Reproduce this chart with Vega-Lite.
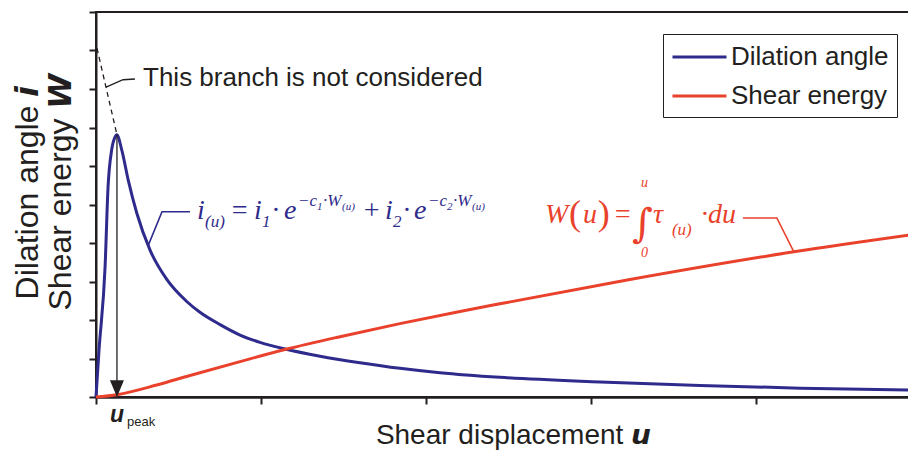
{
  "$schema": "https://vega.github.io/schema/vega-lite/v6.json",
  "width": 815,
  "height": 385,
  "autosize": "none",
  "padding": {"left": 96, "top": 12, "right": 0, "bottom": 53},
  "background": "white",
  "config": {"view": {"stroke": "#231f20", "strokeWidth": 2}, "font": "Liberation Sans"},
  "datasets": {
    "curves": [
      {"u": 0, "v": 0, "series": "Dilation angle"},
      {"u": 0.018, "v": 1.2, "series": "Dilation angle"},
      {"u": 0.055, "v": 3.38, "series": "Dilation angle"},
      {"u": 0.073, "v": 5.45, "series": "Dilation angle"},
      {"u": 0.095, "v": 6.42, "series": "Dilation angle"},
      {"u": 0.115, "v": 6.75, "series": "Dilation angle"},
      {"u": 0.126, "v": 6.81, "series": "Dilation angle"},
      {"u": 0.156, "v": 6.42, "series": "Dilation angle"},
      {"u": 0.195, "v": 5.64, "series": "Dilation angle"},
      {"u": 0.247, "v": 4.78, "series": "Dilation angle"},
      {"u": 0.327, "v": 3.82, "series": "Dilation angle"},
      {"u": 0.428, "v": 3.06, "series": "Dilation angle"},
      {"u": 0.55, "v": 2.48, "series": "Dilation angle"},
      {"u": 0.63, "v": 2.2, "series": "Dilation angle"},
      {"u": 0.752, "v": 1.88, "series": "Dilation angle"},
      {"u": 0.873, "v": 1.61, "series": "Dilation angle"},
      {"u": 0.994, "v": 1.42, "series": "Dilation angle"},
      {"u": 1.152, "v": 1.24, "series": "Dilation angle"},
      {"u": 1.358, "v": 1.06, "series": "Dilation angle"},
      {"u": 1.6, "v": 0.89, "series": "Dilation angle"},
      {"u": 1.842, "v": 0.745, "series": "Dilation angle"},
      {"u": 2.085, "v": 0.63, "series": "Dilation angle"},
      {"u": 2.448, "v": 0.51, "series": "Dilation angle"},
      {"u": 3.055, "v": 0.39, "series": "Dilation angle"},
      {"u": 3.66, "v": 0.3, "series": "Dilation angle"},
      {"u": 4.27, "v": 0.23, "series": "Dilation angle"},
      {"u": 4.94, "v": 0.18, "series": "Dilation angle"},
      {"u": 0, "v": 0, "series": "Shear energy"},
      {"u": 0.127, "v": 0.06, "series": "Shear energy"},
      {"u": 0.368, "v": 0.31, "series": "Shear energy"},
      {"u": 0.57, "v": 0.56, "series": "Shear energy"},
      {"u": 0.873, "v": 0.92, "series": "Shear energy"},
      {"u": 1.152, "v": 1.24, "series": "Shear energy"},
      {"u": 1.479, "v": 1.567, "series": "Shear energy"},
      {"u": 1.842, "v": 1.905, "series": "Shear energy"},
      {"u": 2.206, "v": 2.222, "series": "Shear energy"},
      {"u": 2.448, "v": 2.42, "series": "Shear energy"},
      {"u": 3.236, "v": 3.05, "series": "Shear energy"},
      {"u": 4.23, "v": 3.77, "series": "Shear energy"},
      {"u": 4.94, "v": 4.21, "series": "Shear energy"}
    ],
    "f1main": [
      {"u": 0.612, "v": 4.623, "t": "i"},
      {"u": 0.812, "v": 4.623, "t": "="},
      {"u": 0.958, "v": 4.623, "t": "i"},
      {"u": 1.067, "v": 4.623, "t": "·"},
      {"u": 1.139, "v": 4.623, "t": "e"},
      {"u": 1.612, "v": 4.623, "t": "+"},
      {"u": 1.752, "v": 4.623, "t": "i"},
      {"u": 1.861, "v": 4.623, "t": "·"},
      {"u": 1.927, "v": 4.623, "t": "e"}
    ],
    "f1script": [
      {"u": 0.661, "v": 4.416, "t": "(u)"},
      {"u": 1.006, "v": 4.416, "t": "1"},
      {"u": 1.8, "v": 4.416, "t": "2"},
      {"u": 1.224, "v": 4.961, "t": "−c"},
      {"u": 1.376, "v": 4.961, "t": "·W"},
      {"u": 2.012, "v": 4.961, "t": "−c"},
      {"u": 2.164, "v": 4.961, "t": "·W"}
    ],
    "f1small": [
      {"u": 1.339, "v": 4.857, "t": "1"},
      {"u": 1.491, "v": 4.857, "t": "(u)"},
      {"u": 2.127, "v": 4.857, "t": "2"},
      {"u": 2.279, "v": 4.857, "t": "(u)"}
    ],
    "f2main": [
      {"u": 2.721, "v": 4.519, "t": "W"},
      {"u": 2.952, "v": 4.519, "t": "u"},
      {"u": 3.133, "v": 4.519, "t": "="},
      {"u": 3.376, "v": 4.519, "t": "τ"},
      {"u": 3.667, "v": 4.519, "t": "·du"}
    ],
    "f2paren": [
      {"u": 2.867, "v": 4.468, "t": "("},
      {"u": 3.042, "v": 4.468, "t": ")"}
    ],
    "f2int": [
      {"u": 3.25, "v": 4.15, "t": "∫"}
    ],
    "f2lim": [
      {"u": 3.303, "v": 5.455, "t": "u"},
      {"u": 3.303, "v": 3.636, "t": "0"}
    ],
    "f2sub": [
      {"u": 3.491, "v": 4.208, "t": "(u)"}
    ]
  },
  "layer": [
    {
      "data": {"name": "curves"},
      "mark": {"type": "line", "strokeWidth": 3, "interpolate": "monotone"},
      "encoding": {
        "x": {
          "field": "u", "type": "quantitative",
          "scale": {"domain": [0, 4.94], "nice": false, "zero": false},
          "axis": {
            "values": [0, 1, 2, 3, 4], "labels": false, "grid": false,
            "tickSize": 7, "tickWidth": 2, "tickColor": "#231f20",
            "domainColor": "#231f20", "domainWidth": 2.5,
            "title": "Shear displacement 𝙪", "titleFont": "Liberation Sans", "titleFontSize": 28,
            "titleFontWeight": "normal", "titleColor": "#231f20",
            "titleX": 417, "titleY": 46, "titleBaseline": "alphabetic", "titleAlign": "center"
          }
        },
        "y": {
          "field": "v", "type": "quantitative",
          "scale": {"domain": [0, 10], "nice": false, "zero": false},
          "axis": {
            "tickCount": 10, "labels": false, "labelOverlap": false, "grid": false,
            "tickSize": 7, "tickWidth": 2, "tickColor": "#231f20",
            "domainColor": "#231f20", "domainWidth": 2,
            "title": ["Dilation angle 𝙞", "Shear energy 𝙒"], "titleFont": "Liberation Sans",
            "titleFontSize": 32, "titleFontWeight": "normal", "titleColor": "#231f20",
            "titleAngle": 270, "titleX": -59, "titleY": 180, "titleBaseline": "alphabetic",
            "titleAlign": "center", "titleLineHeight": 33
          }
        },
        "color": {
          "field": "series", "type": "nominal",
          "scale": {"domain": ["Dilation angle", "Shear energy"], "range": ["#2E2B8C", "#E9412B"]},
          "legend": {
            "title": null, "orient": "none", "legendX": 567, "legendY": 22,
            "symbolType": "M-1,0H3", "symbolStrokeWidth": 3, "symbolSize": 729,
            "labelFontSize": 26, "labelFont": "Liberation Sans", "labelColor": "#231f20",
            "strokeColor": "#231f20", "fillColor": "white", "padding": 8, "rowPadding": 11,
            "labelOffset": 30
          }
        }
      }
    },
    {
      "data": {"values": [{"u": 0.006, "v": 9.06}, {"u": 0.127, "v": 6.81}]},
      "mark": {"type": "line", "color": "#231f20", "strokeWidth": 1.3, "strokeDash": [5, 4]},
      "encoding": {"x": {"field": "u", "type": "quantitative"}, "y": {"field": "v", "type": "quantitative"}}
    },
    {
      "data": {"values": [{"u": 0.061, "v": 8.05, "o": 1}, {"u": 0.164, "v": 8.24, "o": 2}, {"u": 0.236, "v": 8.26, "o": 3}]},
      "mark": {"type": "line", "color": "#231f20", "strokeWidth": 1.3},
      "encoding": {"x": {"field": "u", "type": "quantitative"}, "y": {"field": "v", "type": "quantitative"}, "order": {"field": "o"}}
    },
    {
      "data": {"values": [{"u": 0.318, "v": 3.95, "o": 1}, {"u": 0.4, "v": 4.81, "o": 2}, {"u": 0.57, "v": 4.81, "o": 3}]},
      "mark": {"type": "line", "color": "#2E2B8C", "strokeWidth": 1.6},
      "encoding": {"x": {"field": "u", "type": "quantitative"}, "y": {"field": "v", "type": "quantitative"}, "order": {"field": "o"}}
    },
    {
      "data": {"values": [{"u": 3.921, "v": 4.65, "o": 1}, {"u": 4.127, "v": 4.65, "o": 2}, {"u": 4.23, "v": 3.77, "o": 3}]},
      "mark": {"type": "line", "color": "#E9412B", "strokeWidth": 1.6},
      "encoding": {"x": {"field": "u", "type": "quantitative"}, "y": {"field": "v", "type": "quantitative"}, "order": {"field": "o"}}
    },
    {
      "data": {"values": [{"u": 0.127, "v": 6.81, "v2": 0.4}]},
      "mark": {"type": "rule", "color": "#231f20", "strokeWidth": 1.3},
      "encoding": {"x": {"field": "u", "type": "quantitative"}, "y": {"field": "v", "type": "quantitative"}, "y2": {"field": "v2"}}
    },
    {
      "data": {"values": [{"u": 0.127, "v": 0.22}]},
      "mark": {"type": "point", "shape": "M-1,-1.2L1,-1.2L0,1.2Z", "size": 196, "filled": true, "color": "#231f20", "opacity": 1},
      "encoding": {"x": {"field": "u", "type": "quantitative"}, "y": {"field": "v", "type": "quantitative"}}
    },
    {
      "data": {"values": [{"u": 0.285, "v": 8.08, "t": "This branch is not considered"}]},
      "mark": {"type": "text", "align": "left", "baseline": "alphabetic", "font": "Liberation Sans", "fontSize": 26, "color": "#231f20"},
      "encoding": {"x": {"field": "u", "type": "quantitative"}, "y": {"field": "v", "type": "quantitative"}, "text": {"field": "t"}}
    },
    {
      "data": {"values": [{"u": 0.085, "v": -0.65, "t": "u"}]},
      "mark": {"type": "text", "align": "left", "baseline": "alphabetic", "font": "Liberation Sans", "fontSize": 23, "fontWeight": "bold", "fontStyle": "italic", "color": "#231f20"},
      "encoding": {"x": {"field": "u", "type": "quantitative"}, "y": {"field": "v", "type": "quantitative"}, "text": {"field": "t"}}
    },
    {
      "data": {"values": [{"u": 0.188, "v": -0.76, "t": "peak"}]},
      "mark": {"type": "text", "align": "left", "baseline": "alphabetic", "font": "Liberation Sans", "fontSize": 13, "color": "#231f20"},
      "encoding": {"x": {"field": "u", "type": "quantitative"}, "y": {"field": "v", "type": "quantitative"}, "text": {"field": "t"}}
    },
    {
      "data": {"name": "f1main"},
      "mark": {"type": "text", "align": "left", "baseline": "alphabetic", "font": "Liberation Serif", "fontStyle": "italic", "fontSize": 28, "color": "#2E2B8C"},
      "encoding": {"x": {"field": "u", "type": "quantitative"}, "y": {"field": "v", "type": "quantitative"}, "text": {"field": "t"}}
    },
    {
      "data": {"name": "f1script"},
      "mark": {"type": "text", "align": "left", "baseline": "alphabetic", "font": "Liberation Serif", "fontStyle": "italic", "fontSize": 17, "color": "#2E2B8C"},
      "encoding": {"x": {"field": "u", "type": "quantitative"}, "y": {"field": "v", "type": "quantitative"}, "text": {"field": "t"}}
    },
    {
      "data": {"name": "f1small"},
      "mark": {"type": "text", "align": "left", "baseline": "alphabetic", "font": "Liberation Serif", "fontStyle": "italic", "fontSize": 11, "color": "#2E2B8C"},
      "encoding": {"x": {"field": "u", "type": "quantitative"}, "y": {"field": "v", "type": "quantitative"}, "text": {"field": "t"}}
    },
    {
      "data": {"name": "f2main"},
      "mark": {"type": "text", "align": "left", "baseline": "alphabetic", "font": "Liberation Serif", "fontStyle": "italic", "fontSize": 28, "color": "#E9412B"},
      "encoding": {"x": {"field": "u", "type": "quantitative"}, "y": {"field": "v", "type": "quantitative"}, "text": {"field": "t"}}
    },
    {
      "data": {"name": "f2paren"},
      "mark": {"type": "text", "align": "left", "baseline": "alphabetic", "font": "Liberation Serif", "fontSize": 36, "color": "#E9412B"},
      "encoding": {"x": {"field": "u", "type": "quantitative"}, "y": {"field": "v", "type": "quantitative"}, "text": {"field": "t"}}
    },
    {
      "data": {"name": "f2int"},
      "mark": {"type": "text", "align": "left", "baseline": "alphabetic", "font": "DejaVu Serif", "fontSize": 40, "color": "#E9412B"},
      "encoding": {"x": {"field": "u", "type": "quantitative"}, "y": {"field": "v", "type": "quantitative"}, "text": {"field": "t"}}
    },
    {
      "data": {"name": "f2lim"},
      "mark": {"type": "text", "align": "left", "baseline": "alphabetic", "font": "Liberation Serif", "fontStyle": "italic", "fontSize": 14, "color": "#E9412B"},
      "encoding": {"x": {"field": "u", "type": "quantitative"}, "y": {"field": "v", "type": "quantitative"}, "text": {"field": "t"}}
    },
    {
      "data": {"name": "f2sub"},
      "mark": {"type": "text", "align": "left", "baseline": "alphabetic", "font": "Liberation Serif", "fontStyle": "italic", "fontSize": 17, "color": "#E9412B"},
      "encoding": {"x": {"field": "u", "type": "quantitative"}, "y": {"field": "v", "type": "quantitative"}, "text": {"field": "t"}}
    }
  ]
}
